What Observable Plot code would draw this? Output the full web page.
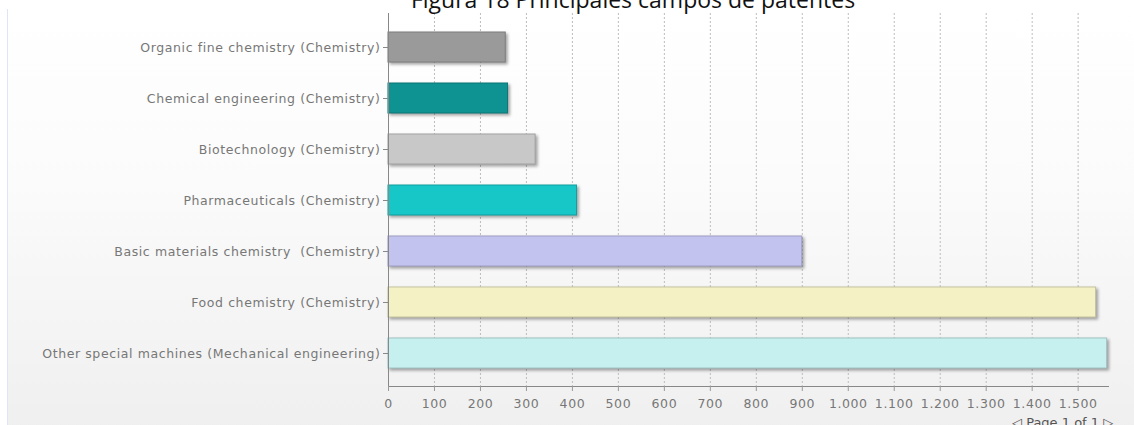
<!DOCTYPE html>
<html>
<head>
<meta charset="utf-8">
<script src="https://cdn.jsdelivr.net/npm/d3@7"></script>
<script src="https://cdn.jsdelivr.net/npm/@observablehq/plot@0.6"></script>
<style>
  html, body { margin: 0; padding: 0; background: #fff; width: 1134px; height: 425px; overflow: hidden; }
  #panel {
    position: absolute; left: 7px; top: 9px; width: 1140px; height: 430px;
    border-left: 1px solid #dce6f4;
    background: linear-gradient(to bottom, #ffffff 0%, #fbfbfb 40%, #efefef 100%);
  }
  #title {
    position: absolute; left: 383px; width: 500px; top: -17px; text-align: center;
    font-family: "Open Sans", sans-serif; font-size: 23px; color: #111; white-space: nowrap;
  }
  #pager {
    position: absolute; left: 1012px; top: 415px; white-space: nowrap;
    font-family: "DejaVu Sans", sans-serif; font-size: 13px; color: #555;
  }
  #chart { position: absolute; left: 0; top: 0; }
  #chart text { letter-spacing: 0.6px; }
</style>
</head>
<body>
<div id="panel"></div>
<div id="chart"></div>
<div id="title">Figura 18 Principales campos de patentes</div>
<div id="pager">◁ Page 1 of 1 ▷</div>
<script>
// Patent fields, top to bottom
const fields = [
  "Organic fine chemistry (Chemistry)",
  "Chemical engineering (Chemistry)",
  "Biotechnology (Chemistry)",
  "Pharmaceuticals (Chemistry)",
  "Basic materials chemistry  (Chemistry)",
  "Food chemistry (Chemistry)",
  "Other special machines (Mechanical engineering)"
];
const counts = [255, 260, 320, 410, 900, 1539, 1563];
const barColors = ["#9a9a9a", "#0f9292", "#c8c8c8", "#17c6c6", "#c3c3f0", "#f4f2c4", "#c6f0f0"];
const xTicks = [0, 100, 200, 300, 400, 500, 600, 700, 800, 900, 1000, 1100, 1200, 1300, 1400, 1500];

const rows = fields.map((f, i) => ({field: f, count: counts[i], color: barColors[i]}));
const fmt = d => d3.format(",")(d).replace(/,/g, ".");

const chart = Plot.plot({
  width: 1134,
  height: 425,
  marginLeft: 388,
  marginRight: 26,
  marginTop: 13,
  marginBottom: 39,
  style: {background: "transparent", fontFamily: "DejaVu Sans, sans-serif", fontSize: "12.5px", color: "#777"},
  x: {domain: [0, 1566], ticks: xTicks, tickFormat: fmt, label: null},
  y: {domain: fields, paddingInner: 0.42, paddingOuter: 0.33, label: null},
  marks: [
    Plot.gridX(xTicks, {stroke: "#bdbdbd", strokeOpacity: 1, strokeDasharray: "2,2"}),
    Plot.barX(rows, {
      x: "count", y: "field", fill: "color",
      stroke: d => d3.color(d.color).darker(0.6).formatHex(), strokeWidth: 1
    }),
    Plot.ruleX([0], {stroke: "#888"}),
    Plot.frame({anchor: "bottom", stroke: "#888"}),
    Plot.axisX(xTicks, {tickSize: 5, tickPadding: 8, stroke: "#999", fill: "#777", tickFormat: fmt, label: null}),
    Plot.axisY({tickSize: 5, tickPadding: 3, stroke: "#888", fill: "#777", label: null})
  ]
});

d3.select(chart).selectAll("g[aria-label='bar'] rect")
  .style("filter", "drop-shadow(2px 2px 1.5px rgba(0,0,0,0.35))");

document.getElementById("chart").appendChild(chart);
</script>
</body>
</html>
